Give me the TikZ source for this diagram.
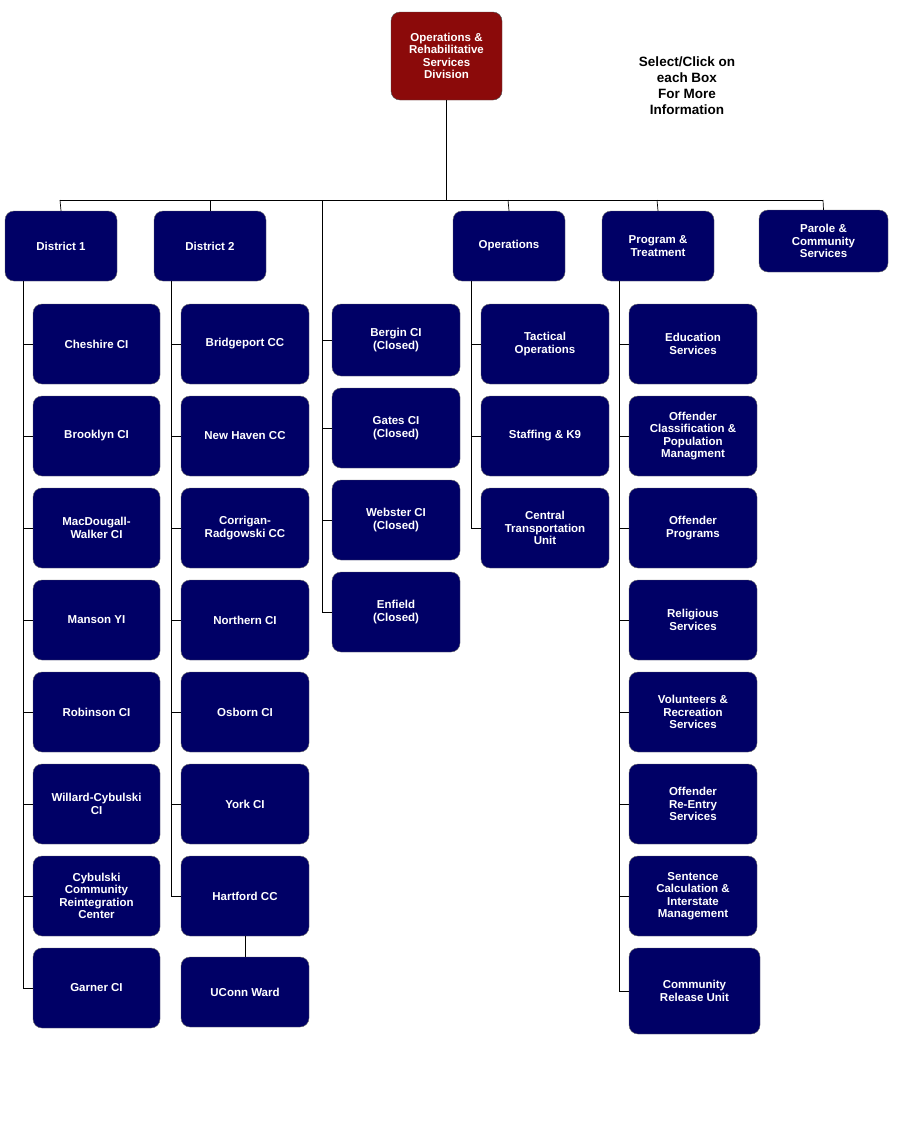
\documentclass[tikz,border=0pt]{standalone}
\usepackage{fontspec}
\setmainfont{Liberation Sans}
\begin{document}
\begin{tikzpicture}[x=1pt,y=-1pt,
  box/.style={draw=black!60,fill=navyc,rounded corners=9pt,text=white,font=\bfseries\fontsize{11.5}{12.5}\selectfont,align=center,inner sep=0pt},
  ln/.style={draw=black,line width=0.7pt}]
\definecolor{navyc}{HTML}{000066}
\definecolor{redc}{HTML}{8B0A0A}
\useasboundingbox (0,0) rectangle (898,1136);
\newcommand\bx[6]{\node[box,minimum width={#4-#2},minimum height={#5-#3}] (#1) at ({(#2+#4)/2},{(#3+#5)/2}) {#6};}
% top
\node[box,fill=redc,draw=black!70,minimum width=111,minimum height=88] (top) at (446.5,56) {Operations \&\\Rehabilitative\\Services\\Division};
\node[font=\bfseries\fontsize{13.5}{16}\selectfont,align=center] (info) at (687,86) {Select/Click on\\each Box\\For More\\Information};
% second row
\bx{d1}{5}{211}{117}{281}{District 1}
\bx{d2}{154}{211}{266}{281}{District 2}
\bx{op}{453}{211}{565}{281}{Operations}
\bx{pt}{602}{211}{714}{281}{Program \&\\Treatment}
\bx{pc}{759}{210}{888}{272}{Parole \&\\Community\\Services}
\coordinate (bl) at (60,200); \coordinate (br) at (823,200);
\coordinate (tb) at (446.5,200);
\coordinate (cc) at (322,200);
\draw[ln] (top.south) -- (tb);
\draw[ln] (60,200) -- (823,200);
\foreach \n/\x in {d1/60,d2/210,op/508,pt/657,pc/823}{\draw[ln] (\x,200) -- (\n.north);}
% District 1
\foreach \i/\t in {1/Cheshire CI,2/Brooklyn CI,3/MacDougall-\\Walker CI,4/Manson YI,5/Robinson CI,6/Willard-Cybulski\\CI,7/Cybulski\\Community\\Reintegration\\Center,8/Garner CI}{
  \pgfmathsetmacro\ya{304+(\i-1)*92}\pgfmathsetmacro\yb{\ya+80}
  \bx{a\i}{33}{\ya}{160}{\yb}{\t}
  \draw[ln] (23,{\ya+40}) -- (a\i.west);
}
\draw[ln] (23,281) -- (23,988);
% District 2
\foreach \i/\t in {1/Bridgeport CC,2/New Haven CC,3/Corrigan-\\Radgowski CC,4/Northern CI,5/Osborn CI,6/York CI,7/Hartford CC}{
  \pgfmathsetmacro\ya{304+(\i-1)*92}\pgfmathsetmacro\yb{\ya+80}
  \bx{b\i}{181}{\ya}{309}{\yb}{\t}
  \draw[ln] (171,{\ya+40}) -- (b\i.west);
}
\draw[ln] (171,281) -- (171,896);
\bx{uc}{181}{957}{309}{1027}{UConn Ward}
\draw[ln] (b7.south) -- (uc.north);
% closed column
\bx{c1}{332}{304}{460}{376}{Bergin CI\\(Closed)}
\bx{c2}{332}{388}{460}{468}{Gates CI\\(Closed)}
\bx{c3}{332}{480}{460}{560}{Webster CI\\(Closed)}
\bx{c4}{332}{572}{460}{652}{Enfield\\(Closed)}
\draw[ln] (cc) -- (322,612);
\foreach \n in {c1,c2,c3,c4}{\draw[ln] (\n.west) -- (322,0|-\n.west);}
% operations
\bx{o1}{481}{304}{609}{384}{Tactical\\Operations}
\bx{o2}{481}{396}{609}{476}{Staffing \& K9}
\bx{o3}{481}{488}{609}{568}{Central\\Transportation\\Unit}
\draw[ln] (471,281) -- (471,528);
\foreach \n in {o1,o2,o3}{\draw[ln] (\n.west) -- (471,0|-\n.west);}
% program
\foreach \i/\t in {1/Education\\Services,2/Offender\\Classification \&\\Population\\Managment,3/Offender\\Programs,4/Religious\\Services,5/Volunteers \&\\Recreation\\Services,6/Offender\\Re-Entry\\Services,7/Sentence\\Calculation \&\\Interstate\\Management}{
  \pgfmathsetmacro\ya{304+(\i-1)*92}\pgfmathsetmacro\yb{\ya+80}
  \bx{p\i}{629}{\ya}{757}{\yb}{\t}
  \draw[ln] (619,{\ya+40}) -- (p\i.west);
}
\bx{p8}{629}{948}{760}{1034}{Community\\Release Unit}
\draw[ln] (619,991) -- (p8.west);
\draw[ln] (619,281) -- (619,991);
\end{tikzpicture}
\end{document}
